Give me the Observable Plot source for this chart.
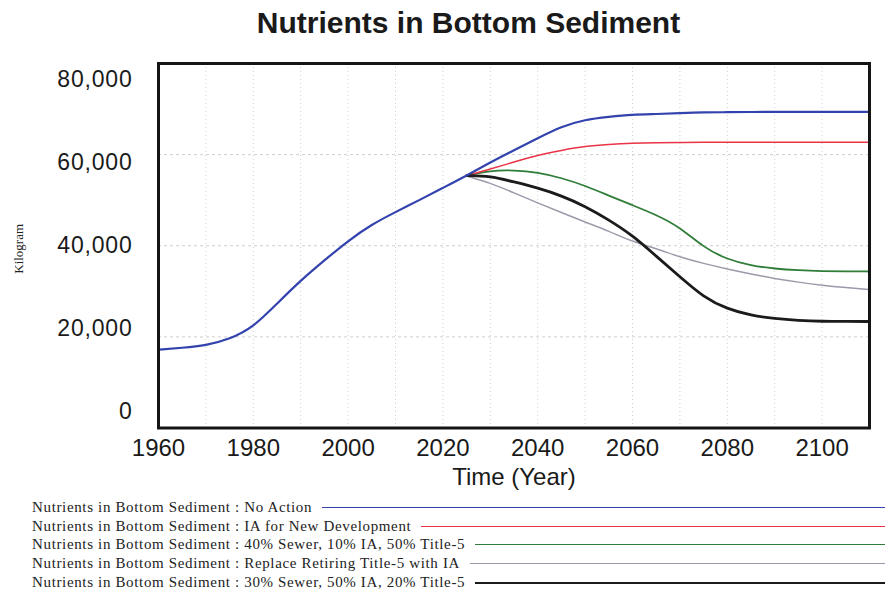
<!DOCTYPE html>
<html>
<head>
<meta charset="utf-8">
<script src="https://cdn.jsdelivr.net/npm/d3@7"></script>
<script src="https://cdn.jsdelivr.net/npm/@observablehq/plot@0.6"></script>
<style>
  html, body { margin: 0; padding: 0; background: #fff; overflow: hidden; }
  #wrap { width: 885px; height: 594px; position: relative; }
  #title { height: 50px; line-height: 46px; padding-left: 52px; text-align: center;
           font-family: "Liberation Sans", Arial, sans-serif; font-weight: bold; font-size: 30px; color: #1a1a1a; }
  #chart svg { display: block; }
  #chart g[aria-label="y-axis tick label"] text { letter-spacing: 0.8px; }
  #legend { padding-top: 3px; font-family: "Liberation Serif", "Times New Roman", serif; font-size: 15px;
            letter-spacing: 0.65px; color: #222; }
  .row { display: flex; align-items: center; height: 18.8px; padding-left: 32px; white-space: nowrap; }
  .row .sw { flex: 1; margin-left: 10px; height: 0; }
</style>
</head>
<body>
<div id="wrap">
  <div id="title"></div>
  <div id="chart"></div>
  <div id="legend"></div>
</div>
<script>
// ---- data ----
const titleText = "Nutrients in Bottom Sediment";
const xLabel = "Time (Year)";
const yLabel = "Kilogram";

const years = [1960, 1965, 1970, 1975, 1980, 1985, 1990, 1995, 2000, 2005, 2010, 2015, 2020, 2025,
               2030, 2035, 2040, 2045, 2050, 2055, 2060, 2065, 2070, 2075, 2080, 2085, 2090, 2095, 2100, 2105, 2110];
const scenarioYears = [2025, 2030, 2035, 2040, 2045, 2050, 2055, 2060, 2065, 2070, 2075, 2080, 2085, 2090, 2095, 2100, 2105, 2110];

const noAction = [17200, 17600, 18100, 19500, 22100, 27300, 32400, 36800, 41100, 44700, 47400, 50000, 52700, 55400,
                  58300, 61000, 63600, 66200, 67700, 68300, 68800, 68900, 69100, 69300, 69300, 69350, 69400, 69400, 69400, 69400, 69400];
const iaNewDevelopment = [55400, 56800, 58400, 59900, 60950, 61850, 62250, 62500, 62600, 62650, 62700, 62700, 62700, 62700, 62700, 62700, 62700, 62700];
const sewer40 = [55400, 56500, 56600, 56100, 54900, 53200, 51000, 48900, 46800, 44100, 39600, 37000, 35650, 34950, 34600, 34420, 34380, 34350];
const replaceTitle5 = [55300, 53800, 51600, 49400, 47300, 45200, 43200, 40900, 39400, 37500, 36100, 34900, 33800, 32800, 32000, 31300, 30800, 30400];
const sewer30 = [55400, 55300, 54000, 52700, 51000, 48700, 45700, 42300, 37700, 33200, 28700, 26100, 24700, 24000, 23600, 23400, 23380, 23380];

const seriesNames = [
  "Nutrients in Bottom Sediment : No Action",
  "Nutrients in Bottom Sediment : IA for New Development",
  "Nutrients in Bottom Sediment : 40% Sewer, 10% IA, 50% Title-5",
  "Nutrients in Bottom Sediment : Replace Retiring Title-5 with IA",
  "Nutrients in Bottom Sediment : 30% Sewer, 50% IA, 20% Title-5"
];
const seriesColors = ["#3343ad", "#ea3346", "#2f7d38", "#9a9aab", "#1b1b1b"];
const seriesWidths = [2.2, 1.5, 1.8, 1.5, 2.8];

const xTicks = [1960, 1980, 2000, 2020, 2040, 2060, 2080, 2100];
const xGrid = [1970, 1980, 1990, 2000, 2010, 2020, 2030, 2040, 2050, 2060, 2070, 2080, 2090, 2100];
const yTicks = [0, 20000, 40000, 60000, 80000];
const yGrid = [20000, 40000, 60000];

// ---- build ----
const series = [
  {years: years, values: noAction},
  {years: scenarioYears, values: iaNewDevelopment},
  {years: scenarioYears, values: sewer40},
  {years: scenarioYears, values: replaceTitle5},
  {years: scenarioYears, values: sewer30}
].map((s, i) => ({...s, name: seriesNames[i], color: seriesColors[i], width: seriesWidths[i],
  rows: s.years.map((y, j) => ({year: y, value: s.values[j]}))}));

document.getElementById("title").textContent = titleText;

const drawOrder = [3, 2, 1, 4, 0];
const lineMarks = drawOrder.map(i => Plot.line(series[i].rows, {
  x: "year", y: "value", stroke: series[i].color, strokeWidth: series[i].width, curve: "basis"
}));

const yAxisMarks = yTicks.map(t => Plot.axisY([t], {
  tickSize: 0, tickPadding: 26, fontSize: 23, tickFormat: d3.format(","), label: null,
  dy: 16 * (2 * t / 80000 - 1), fill: "#1a1a1a"
}));

const chart = Plot.plot({
  width: 885,
  height: 445,
  marginLeft: 158,
  marginRight: 16,
  marginTop: 13,
  marginBottom: 67.5,
  style: {fontFamily: "'Liberation Sans', Arial, sans-serif", background: "white", color: "#1a1a1a", overflow: "visible"},
  x: {domain: [1960, 2110]},
  y: {domain: [0, 80000]},
  marks: [
    Plot.gridX(xGrid, {stroke: "#cfcfcf", strokeOpacity: 1, strokeDasharray: "1,3"}),
    Plot.gridY(yGrid, {stroke: "#cfcfcf", strokeOpacity: 1, strokeDasharray: "3,3"}),
    ...lineMarks,
    Plot.frame({stroke: "#151515", strokeWidth: 3}),
    ...yAxisMarks,
    Plot.axisX(xTicks, {tickSize: 0, tickPadding: 11, fontSize: 24, tickFormat: d => String(d), label: null, fill: "#1a1a1a"}),
    Plot.text([xLabel], {frameAnchor: "bottom", dy: 57, fontSize: 24, fill: "#1a1a1a", text: d => d}),
    Plot.text([yLabel], {frameAnchor: "left", dx: -140, dy: 28, rotate: -90, fontSize: 13,
      fontFamily: "'Liberation Serif', 'Times New Roman', serif", fill: "#222", text: d => d})
  ]
});
document.getElementById("chart").appendChild(chart);

const legend = document.getElementById("legend");
series.forEach(s => {
  const row = document.createElement("div");
  row.className = "row";
  const label = document.createElement("span");
  label.textContent = s.name;
  const sw = document.createElement("div");
  sw.className = "sw";
  sw.style.borderTop = `${Math.max(1.6, s.width * 0.85)}px solid ${s.color}`;
  row.appendChild(label);
  row.appendChild(sw);
  legend.appendChild(row);
});
</script>
</body>
</html>
